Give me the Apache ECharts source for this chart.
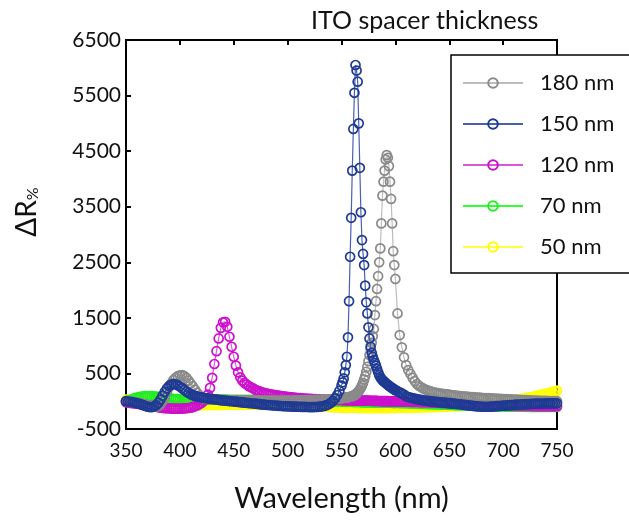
<!DOCTYPE html>
<html>
<head>
<meta charset="utf-8">
<script src="https://cdn.jsdelivr.net/npm/echarts@6/dist/echarts.min.js"></script>
<style>
  html, body { margin: 0; padding: 0; background: #fff; }
  #chart { width: 629px; height: 524px; }
</style>
</head>
<body>
<div id="chart"></div>
<script>
// wavelength grid, nm (1 nm steps across the two sharp peaks)
const wavelengths = [
  350,352,354,356,358,360,362,364,366,368,370,372,374,376,378,380,382,384,386,388,
  390,392,394,396,398,400,402,404,406,408,410,412,414,416,418,420,422,424,426,428,
  430,432,434,436,438,440,442,444,446,448,450,452,454,456,458,460,462,464,466,468,
  470,472,474,476,478,480,482,484,486,488,490,492,494,496,498,500,502,504,506,508,
  510,512,514,516,518,520,522,524,526,528,530,532,534,536,538,540,542,544,546,548,
  550,551,552,553,554,555,556,557,558,559,560,561,562,563,564,565,566,567,568,569,
  570,571,572,573,574,575,576,577,578,579,580,581,582,583,584,585,586,587,588,589,
  590,591,592,593,594,595,596,597,598,599,
  600,602,604,606,608,610,612,614,616,618,620,622,624,626,628,
  630,632,634,636,638,640,642,644,646,648,650,652,654,656,658,660,662,664,666,668,
  670,672,674,676,678,680,682,684,686,688,690,692,694,696,698,700,702,704,706,708,
  710,712,714,716,718,720,722,724,726,728,730,732,734,736,738,740,742,744,746,748,
  750
];

// ΔR% for each ITO spacer thickness
const dr180 = [
  0,-5,-10,-15,-20,-25,-30,-40,-50,-60,
  -70,-80,-90,-100,-100,-85,-50,0,70,160,
  250,320,380,420,450,465,470,455,420,370,
  320,270,210,150,100,70,55,45,38,33,
  30,28,26,25,24,23,22,21,20,20,
  19,18,18,17,17,16,16,15,15,15,
  14,14,14,13,13,13,12,12,12,12,
  12,12,12,12,12,13,13,13,14,14,
  15,15,16,17,18,19,20,22,24,26,
  25,27,29,31,33,36,39,42,46,50,
  55,57,60,63,66,69,72,76,80,85,
  90,100,110,125,140,160,180,210,240,285,
  330,390,450,530,620,720,830,940,1050,1170,
  1300,1550,1800,2020,2250,2500,2750,3200,3700,3950,
  4150,4350,4430,4380,4230,3950,3640,3200,2700,2450,
  2200,1580,1190,970,790,
  650,560,490,420,360,310,275,250,228,210,
  195,182,170,160,151,144,138,132,127,122,
  117,112,107,102,97,93,89,85,81,78,
  75,72,69,66,63,60,58,56,54,52,
  50,48,46,44,42,40,38,36,34,32,
  30,28,26,24,22,20,18,16,14,12,
  10,9,8,7,6,5,4,3,2,1,
  0
];
const dr150 = [
  0,-5,-10,-18,-26,-35,-45,-57,-70,-85,
  -98,-105,-105,-95,-70,-30,30,100,170,230,
  275,300,310,305,290,265,235,205,175,150,
  128,110,96,85,76,68,61,55,50,45,
  40,35,30,25,20,15,11,7,3,-1,
  -5,-9,-13,-17,-21,-25,-29,-33,-37,-41,
  -45,-49,-53,-57,-61,-65,-68,-71,-74,-77,
  -80,-83,-86,-88,-90,-92,-94,-96,-98,-99,
  -100,-101,-102,-103,-104,-105,-105,-105,-104,-102,
  -98,-92,-84,-72,-55,-30,5,50,110,185,
  280,340,410,520,650,800,1150,1800,2600,3300,
  4150,4900,5550,6050,5950,5750,5000,4200,3400,2900,
  2650,2450,2080,1780,1580,1330,1130,980,870,800,
  740,690,640,580,520,470,430,405,380,362,
  345,327,310,295,280,265,250,237,225,212,
  200,180,160,140,120,
  88,76,65,55,46,38,30,23,17,11,
  6,1,-4,-8,-12,-16,-20,-23,-26,-29,
  -35,-39,-43,-47,-51,-55,-60,-65,-70,-75,
  -80,-84,-88,-92,-95,-98,-100,-100,-100,-98,
  -96,-93,-90,-87,-84,-81,-78,-75,-72,-69,
  -66,-63,-60,-58,-56,-54,-52,-50,-48,-46,
  -45,-44,-43,-42,-41,-40,-40,-39,-39,-38,
  -38
];
const dr120 = [
  -20,-25,-30,-35,-40,-45,-50,-55,-60,-65,
  -70,-78,-85,-92,-100,-108,-115,-120,-124,-127,
  -130,-132,-133,-134,-134,-133,-132,-130,-127,-122,
  -115,-105,-92,-76,-56,-30,0,50,120,240,
  420,670,900,1130,1320,1420,1430,1340,1160,980,
  800,640,520,430,370,330,300,272,250,232,
  205,190,176,163,152,142,133,125,118,111,
  105,99,93,88,83,78,73,69,65,61,
  57,54,51,48,45,43,41,39,37,35,
  33,31,29,28,27,26,25,24,23,22,
  21,21,20,20,19,19,18,18,17,17,
  16,16,15,15,14,14,13,13,12,12,
  11,11,10,10,9,9,8,8,7,7,
  6,6,5,5,4,4,3,3,2,2,
  1,1,0,0,-1,-1,-2,-2,-3,-3,
  -4,-5,-6,-7,-8,
  -9,-10,-11,-12,-13,-14,-15,-16,-17,-18,
  -19,-20,-22,-24,-26,-28,-30,-32,-34,-36,
  -38,-40,-42,-44,-46,-48,-50,-52,-54,-56,
  -58,-60,-62,-64,-66,-67,-68,-69,-70,-71,
  -72,-73,-74,-75,-76,-77,-78,-79,-80,-81,
  -82,-83,-84,-84,-85,-85,-86,-86,-87,-87,
  -88,-88,-88,-89,-89,-89,-90,-90,-90,-90,
  -90
];
const dr70 = [
  0,10,25,40,55,65,75,82,87,90,
  92,92,90,88,85,80,75,70,64,58,
  52,47,43,40,37,35,33,32,31,30,
  30,30,30,30,29,29,29,29,29,29,
  29,29,28,28,28,27,27,27,26,26,
  26,26,25,25,25,25,24,24,24,24,
  23,23,23,22,22,22,21,21,21,20,
  20,19,19,18,18,17,17,16,15,15,
  14,13,12,11,10,9,8,7,6,5,
  4,3,2,1,0,-1,-2,-3,-4,-5,
  -6,-6,-7,-7,-8,-8,-9,-9,-10,-10,
  -11,-11,-12,-12,-13,-13,-14,-14,-15,-15,
  -16,-16,-17,-17,-18,-18,-19,-19,-20,-20,
  -21,-21,-22,-22,-23,-23,-24,-24,-25,-25,
  -26,-26,-27,-27,-28,-28,-29,-29,-30,-30,
  -31,-32,-33,-34,-35,
  -36,-38,-39,-41,-42,-44,-45,-47,-48,-50,
  -51,-53,-54,-56,-57,-59,-60,-62,-63,-65,
  -66,-67,-69,-70,-71,-73,-74,-75,-77,-78,
  -79,-80,-82,-83,-84,-85,-86,-87,-88,-89,
  -90,-91,-92,-93,-94,-95,-96,-96,-97,-98,
  -98,-99,-99,-100,-100,-101,-101,-102,-102,-102,
  -103,-103,-103,-103,-104,-104,-104,-104,-104,-104,
  -104
];
const dr50 = [
  30,28,25,22,18,13,8,2,-5,-12,
  -19,-26,-32,-38,-43,-48,-52,-56,-59,-62,
  -64,-66,-68,-69,-70,-71,-72,-72,-72,-72,
  -72,-72,-71,-71,-70,-70,-69,-69,-68,-68,
  -67,-67,-66,-66,-65,-65,-64,-64,-63,-63,
  -62,-62,-61,-61,-61,-60,-60,-60,-60,-60,
  -60,-60,-60,-60,-60,-61,-61,-61,-62,-62,
  -63,-63,-64,-65,-66,-67,-68,-69,-70,-72,
  -74,-76,-78,-80,-82,-84,-86,-88,-90,-92,
  -94,-96,-98,-100,-102,-104,-106,-108,-110,-112,
  -113,-113,-114,-114,-115,-115,-116,-116,-117,-117,
  -118,-118,-118,-118,-119,-119,-119,-119,-120,-120,
  -120,-120,-120,-120,-120,-120,-120,-120,-120,-120,
  -120,-120,-120,-120,-120,-120,-120,-120,-120,-120,
  -120,-120,-120,-120,-120,-120,-119,-119,-119,-119,
  -119,-118,-118,-117,-117,
  -116,-116,-115,-114,-113,-112,-111,-110,-109,-108,
  -107,-106,-105,-104,-103,-102,-100,-99,-97,-96,
  -94,-92,-90,-88,-86,-84,-82,-80,-77,-74,
  -71,-68,-65,-62,-58,-54,-50,-46,-42,-38,
  -34,-30,-25,-20,-15,-10,-5,0,6,12,
  18,24,31,38,45,52,59,66,74,82,
  90,99,108,117,126,136,146,157,168,179,
  190
];

const FONT = 'Lato, "Open Sans", sans-serif';

// one open-circle line series
function makeSeries(name, values, ringColor, lineColor, z) {
  return {
    name: name,
    type: 'line',
    z: z,
    data: wavelengths.map((w, i) => [w, values[i]]),
    symbol: 'circle',
    symbolSize: 9,
    itemStyle: { color: 'rgba(255,255,255,0)', borderColor: ringColor, borderWidth: 1.7 },
    lineStyle: { color: lineColor, width: 1.2 },
    emphasis: { disabled: true }
  };
}

const chart = echarts.init(document.getElementById('chart'));
chart.setOption({
  animation: false,
  backgroundColor: '#fff',
  title: {
    text: 'ITO spacer thickness',
    left: 306, top: 3,
    textStyle: { fontFamily: FONT, fontSize: 25, fontWeight: 'normal', color: '#111' }
  },
  // y-axis title with the % subscript
  graphic: [{
    type: 'text',
    x: 27, y: 212,
    rotation: Math.PI / 2,
    style: {
      text: '{a|ΔR}{b|%}',
      align: 'center', verticalAlign: 'middle',
      rich: {
        a: { fontFamily: FONT, fontSize: 28, fill: '#111', verticalAlign: 'bottom' },
        b: { fontFamily: FONT, fontSize: 16, fill: '#111', verticalAlign: 'bottom' }
      }
    }
  }],
  grid: {
    left: 126, right: 72, top: 40, bottom: 95,
    show: true, borderColor: '#000', borderWidth: 2, backgroundColor: 'transparent'
  },
  legend: {
    data: ['180 nm', '150 nm', '120 nm', '70 nm', '50 nm'],
    orient: 'vertical',
    left: 451, top: 55,
    z: 20,
    padding: [17, 18, 15, 11],
    itemWidth: 60, itemHeight: 12, itemGap: 19,
    backgroundColor: 'rgba(255,255,255,1)',
    borderColor: '#000', borderWidth: 1.5,
    textStyle: { fontFamily: FONT, fontSize: 22, color: '#111', padding: [0, 0, 0, 12] }
  },
  xAxis: [
    {
      type: 'value', position: 'bottom',
      min: 350, max: 750, interval: 50,
      name: 'Wavelength (nm)', nameLocation: 'middle', nameGap: 55,
      nameTextStyle: { fontFamily: FONT, fontSize: 29, color: '#111' },
      axisLine: { lineStyle: { color: '#000', width: 2 } },
      axisTick: { inside: true, length: 5, lineStyle: { color: '#000', width: 2 } },
      axisLabel: { fontFamily: FONT, fontSize: 19, color: '#111', margin: 12 },
      splitLine: { show: false }
    },
    {
      type: 'value', position: 'top',
      min: 350, max: 750, interval: 50,
      axisLine: { lineStyle: { color: '#000', width: 2 } },
      axisTick: { inside: true, length: 5, lineStyle: { color: '#000', width: 2 } },
      axisLabel: { show: false },
      splitLine: { show: false }
    }
  ],
  yAxis: [
    {
      type: 'value', position: 'left',
      min: -500, max: 6500, interval: 1000,
      axisLine: { lineStyle: { color: '#000', width: 2 } },
      axisTick: { inside: true, length: 5, lineStyle: { color: '#000', width: 2 } },
      axisLabel: { fontFamily: FONT, fontSize: 21, color: '#111', margin: 5, formatter: v => String(v) },
      splitLine: { show: false }
    }
  ],
  series: [
    makeSeries('50 nm', dr50, '#ffff00', '#ffff40', 1),
    makeSeries('70 nm', dr70, '#22ee22', '#33ff33', 2),
    makeSeries('120 nm', dr120, '#cc11cc', '#dd55dd', 3),
    makeSeries('180 nm', dr180, '#8a8a8a', '#bdbdbd', 4),
    makeSeries('150 nm', dr150, '#1f3a93', '#4a5fb0', 5)
  ]
});
</script>
</body>
</html>
